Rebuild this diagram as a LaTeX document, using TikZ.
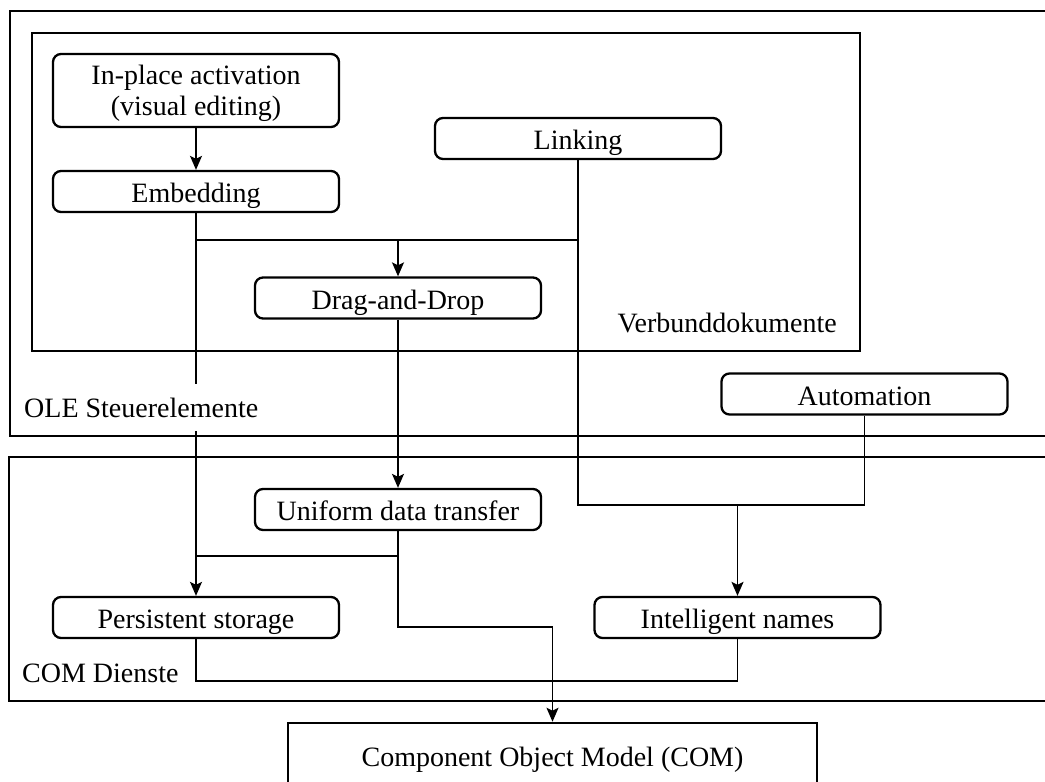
\documentclass[tikz,border=0pt]{standalone}
\usepackage{fontspec}
\setmainfont{Liberation Serif}
\usetikzlibrary{arrows.meta}

\tikzset{
  txt/.style={font=\fontsize{28}{31}\selectfont},
  box/.style={txt, draw, rounded corners=8pt, line width=2.3pt,
    minimum width=286pt, minimum height=41pt, inner sep=0pt, align=center,
    text height=23pt, text depth=1pt},
  frame/.style={draw, line width=2.5pt},
  link/.style={line width=1.7pt},
  arr/.style={link, -{Stealth[length=14pt,width=12pt,inset=3pt]}},
  grouplabel/.style={txt, inner sep=0pt},
}

\begin{document}
\begin{tikzpicture}[x=1pt, y=-1pt]
  \useasboundingbox (0,0) rectangle (1045,782);
  \clip (0,0) rectangle (1045,782);

  % group frames
  \draw[frame] (10,11) rectangle (1070,436);   % OLE controls
  \draw[frame] (32,33) rectangle (860,351);    % compound documents
  \draw[frame] (9,457) rectangle (1070,701);   % COM services

  % feature boxes
  \node[box, minimum height=73pt, text height=50pt, text depth=1pt]
        (inplace) at (196,90.5) {In-place activation\\(visual editing)};
  \node[box] (embed)    at (196,191.5) {Embedding};
  \node[box] (linking)  at (578,138.5) {Linking};
  \node[box] (drag)     at (398,298)   {Drag-and-Drop};
  \node[box] (auto)     at (864.5,394) {Automation};
  \node[box] (uniform)  at (398,509.5) {Uniform data transfer};
  \node[box] (persist)  at (196,617.5) {Persistent storage};
  \node[box] (intel)    at (737.5,617.5) {Intelligent names};
  \node[txt, draw, line width=2.5pt, minimum width=529pt, minimum height=74pt,
        inner sep=0pt] (com) at (552.5,760) {Component Object Model (COM)};

  % rows where connectors join
  \coordinate (rowA) at (0,240);
  \coordinate (rowB) at (0,505);
  \coordinate (rowC) at (0,556);
  \coordinate (rowD) at (0,627);
  \coordinate (rowE) at (0,681);

  % connectors
  \draw[arr] (inplace) -- (embed);
  \draw[arr] (embed.south) -- (persist.north);
  \draw[link] (embed.south |- rowA) -- (drag.north |- rowA);
  \draw[arr] (linking.south) |- (drag.north |- rowA) -- (drag.north);
  \draw[arr] (linking.south) |- (intel.north |- rowB) -- (intel.north);
  \draw[link] (auto.south) |- (intel.north |- rowB);
  \draw[arr] (drag) -- (uniform);
  \draw[link] (uniform.south) |- (persist.north |- rowC);
  \draw[arr] (uniform.south) |- (com.north |- rowD) -- (com.north);
  \draw[link] (persist.south) |- (intel.south |- rowE) -- (intel.south);

  % group labels
  \node[grouplabel, anchor=base east] (lblverbund) at (837,332) {Verbunddokumente};
  \node[grouplabel, anchor=base west, fill=white, inner ysep=14pt, inner xsep=1pt]
        (lblole) at (23,417) {OLE Steuerelemente};
  \node[grouplabel, anchor=base west] (lblcom) at (22,682) {COM Dienste};
\end{tikzpicture}
\end{document}
